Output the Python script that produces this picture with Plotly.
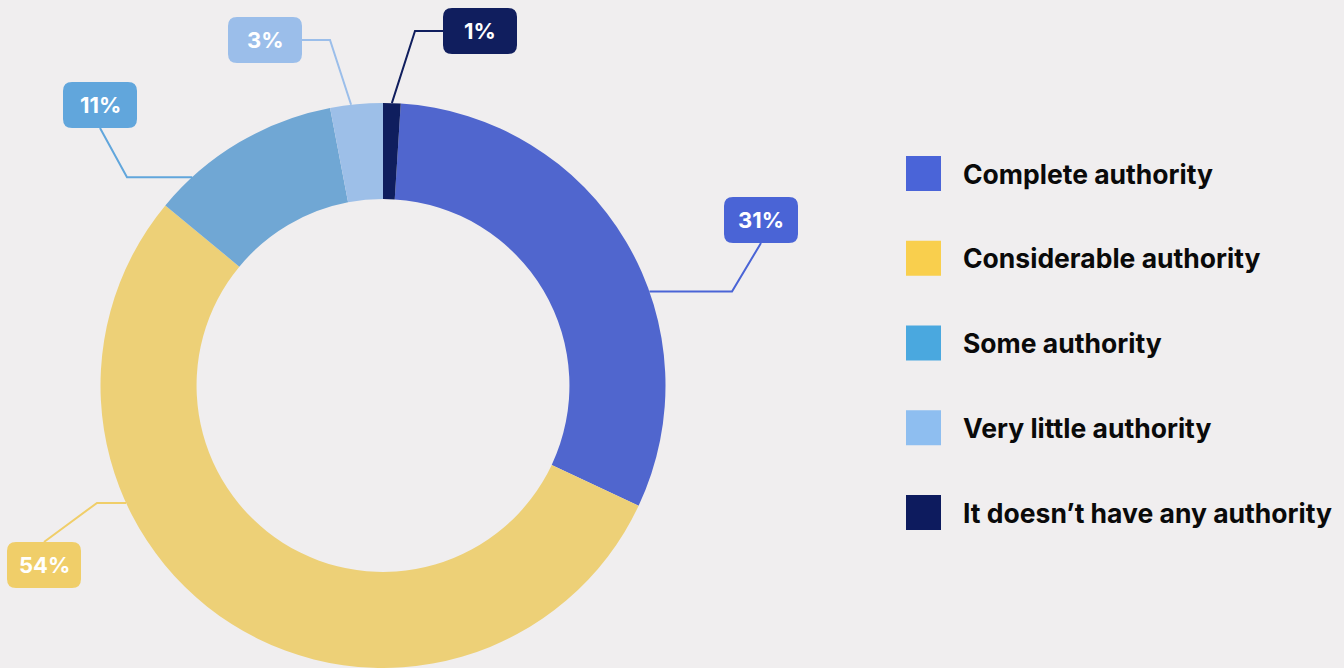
import math
import plotly.graph_objects as go

# ---------------- data ----------------
categories = [
    "Complete authority",
    "Considerable authority",
    "Some authority",
    "Very little authority",
    "It doesn\u2019t have any authority",
]
values = [31, 54, 11, 3, 1]
value_labels = ["31%", "54%", "11%", "3%", "1%"]

# ---------------- styles ----------------
slice_colors = ["#5066CE", "#EDD077", "#70A7D4", "#9DBFE8", "#0F1E5E"]
label_colors = ["#4A64D6", "#F0CE69", "#61A6DC", "#9BBEEA", "#101E5E"]
legend_colors = ["#4A64D8", "#F9CF4D", "#4AA8DF", "#8EBEF0", "#0D1B5E"]

W, H = 1344, 668
BG = "#F0EEEF"
FONT = "Inter"

# pie geometry (pixels)
dom_x = [99 / W, 667 / W]
dom_y = [0.0, 1 - 103 / H]
cx = (dom_x[0] + dom_x[1]) / 2 * W
cy = H - (dom_y[0] + dom_y[1]) / 2 * H
R = min((dom_x[1] - dom_x[0]) * W, (dom_y[1] - dom_y[0]) * H) / 2
HOLE = 0.66

total = sum(values)
rotation = values[-1] / total * 360  # last slice sits just right of 12 o'clock

# label layout: anchor position within slice, leader style, elbow x, box centre
label_layout = [
    dict(frac=0.60, style="h", ex=732, bx=761, by=220),
    dict(frac=0.67, style="h", ex=97, bx=44, by=565),
    dict(frac=0.20, style="h", ex=127, bx=100, by=105),
    dict(frac=0.40, style="v", ex=330, bx=265, by=40),
    dict(frac=0.50, style="v", ex=415, bx=480, by=31),
]
BW, BH, BR = 74, 46, 9

# legend layout
LEG_X0, LEG_SQ, LEG_TX = 906, 35, 961
LEG_Y0, LEG_STEP = 173.5, 84.75

fig = go.Figure()

fig.add_trace(go.Pie(
    labels=categories,
    values=values,
    sort=False,
    direction="clockwise",
    rotation=rotation,
    hole=HOLE,
    marker=dict(colors=slice_colors, line=dict(width=0)),
    textinfo="none",
    hoverinfo="label+percent",
    showlegend=False,
    domain=dict(x=dom_x, y=dom_y),
))

# invisible pixel-coordinate axes for annotations / leaders
fig.add_trace(go.Scatter(x=[0, W], y=[0, H], mode="markers",
                         marker=dict(opacity=0), hoverinfo="skip", showlegend=False))


def rounded_rect(x0, y0, x1, y1, r):
    return (f"M {x0 + r},{y0} L {x1 - r},{y0} Q {x1},{y0} {x1},{y0 + r} "
            f"L {x1},{y1 - r} Q {x1},{y1} {x1 - r},{y1} L {x0 + r},{y1} "
            f"Q {x0},{y1} {x0},{y1 - r} L {x0},{y0 + r} Q {x0},{y0} {x0 + r},{y0} Z")


shapes = []
annotations = []

start = rotation
for i, v in enumerate(values):
    span = v / total * 360
    lay = label_layout[i]
    ang = math.radians(start + span * lay["frac"])
    ax = cx + R * math.sin(ang)
    ay = cy - R * math.cos(ang)
    bx, by = lay["bx"], lay["by"]
    if lay["style"] == "h":
        elbow = (lay["ex"], ay)
        attach = (bx, by + BH / 2 if by < ay else by - BH / 2)
    else:
        elbow = (lay["ex"], by)
        attach = (bx + BW / 2 if bx < lay["ex"] else bx - BW / 2, by)
    shapes.append(dict(
        type="path", xref="x", yref="y",
        path=f"M {ax},{ay} L {elbow[0]},{elbow[1]} L {attach[0]},{attach[1]}",
        line=dict(color=label_colors[i], width=2), fillcolor="rgba(0,0,0,0)",
    ))
    shapes.append(dict(
        type="path", xref="x", yref="y",
        path=rounded_rect(bx - BW / 2, by - BH / 2, bx + BW / 2, by + BH / 2, BR),
        line=dict(width=0), fillcolor=label_colors[i],
    ))
    annotations.append(dict(
        x=bx, y=by, xref="x", yref="y", text=value_labels[i], showarrow=False,
        font=dict(family=FONT, size=22, color="white", weight=700),
        xanchor="center", yanchor="middle",
    ))
    start += span

# custom legend
for i, name in enumerate(categories):
    yc = LEG_Y0 + i * LEG_STEP
    shapes.append(dict(
        type="rect", xref="x", yref="y",
        x0=LEG_X0, x1=LEG_X0 + LEG_SQ, y0=yc - LEG_SQ / 2, y1=yc + LEG_SQ / 2,
        line=dict(width=0), fillcolor=legend_colors[i],
    ))
    annotations.append(dict(
        x=LEG_TX, y=yc, xref="x", yref="y", text=name, showarrow=False,
        font=dict(family=FONT, size=26.5, color="#0A0A0A", weight=700),
        xanchor="left", yanchor="middle",
    ))

fig.update_layout(
    width=W, height=H,
    margin=dict(l=0, r=0, t=0, b=0),
    paper_bgcolor=BG, plot_bgcolor="rgba(0,0,0,0)",
    xaxis=dict(range=[0, W], visible=False, fixedrange=True, domain=[0, 1]),
    yaxis=dict(range=[H, 0], visible=False, fixedrange=True, domain=[0, 1]),
    shapes=shapes,
    annotations=annotations,
    showlegend=False,
)

fig.write_html("out.html")
